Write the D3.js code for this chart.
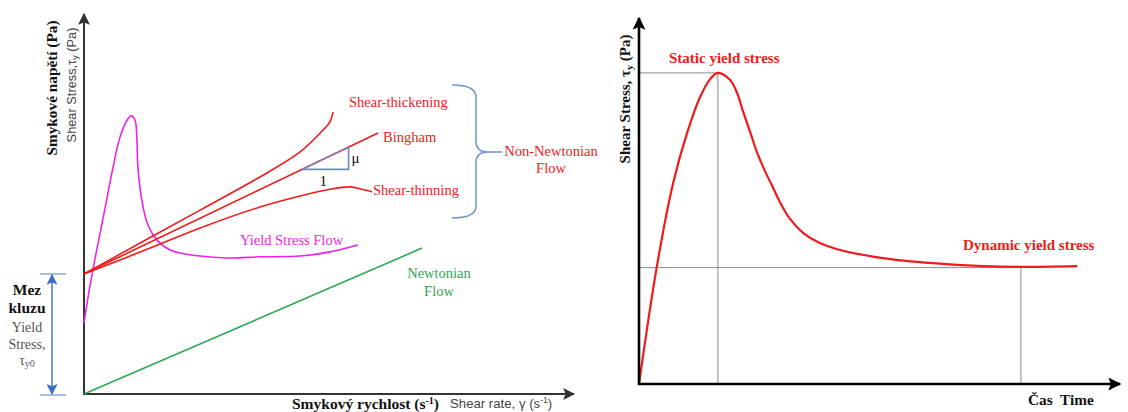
<!DOCTYPE html>
<html>
<head>
<meta charset="utf-8">
<script src="https://cdn.jsdelivr.net/npm/d3@7"></script>
<style>
  body { margin: 0; background: #fff; }
  svg { display: block; }
  .serif { font-family: "Liberation Serif", "Times New Roman", "DejaVu Serif", serif; }
  .sans { font-family: "Liberation Sans", Arial, "DejaVu Sans", sans-serif; }
</style>
</head>
<body>
<div id="chart"></div>
<script>
// left panel: shear stress vs shear rate (units 0..100 on both axes)
const yieldStress = 31.6;
const thickeningRate = [0, 23.7, 35.9, 44.1, 48.2, 50.2, 50.8];
const thickeningStress = [31.6, 48.4, 57.1, 63.7, 68.7, 71.6, 74.2];
const binghamRate = [0, 60];
const binghamStress = [31.6, 68.7];
const thinningRate = [0, 13.5, 23.7, 35.9, 44.1, 50.2, 54.3, 56.7, 58.8];
const thinningStress = [31.6, 38.4, 43.7, 49.2, 52.1, 53.9, 54.5, 53.9, 53.2];
const ysfRate = [0, 1.0, 2.2, 3.5, 4.7, 5.9, 7.3, 8.8, 9.6, 10.4, 10.8, 11.0, 11.8, 12.9, 14.9, 17.6, 19.6, 29.2, 35.9, 44.1, 50.2, 55.9];
const ysfStress = [18.7, 26.8, 35.3, 43.7, 51.6, 59.5, 67.4, 72.1, 73.2, 72.1, 66.8, 59.7, 51.1, 45.0, 40.5, 37.9, 37.1, 35.8, 36.1, 36.3, 37.4, 39.2];
const newtonRate = [0, 69];
const newtonStress = [0, 38.4];
const slopeRun = [44.5, 54];

// right panel: shear stress vs time
const timeVals = [0, 3.7, 7.1, 10.0, 12.7, 14.8, 16.4, 18.9, 20.4, 21.6, 23.1, 24.5, 26.0, 27.7, 29.3, 31.4, 34.1, 37.6, 41.8, 50.7, 61.1, 71.5, 79.4, 91.1];
const stressVals = [0, 32.0, 54.9, 68.6, 78.4, 83.3, 85.0, 83.1, 79.5, 74.6, 68.9, 63.4, 58.7, 54.1, 49.7, 45.1, 41.3, 38.5, 36.6, 34.4, 33.0, 32.2, 32.0, 32.2];
const staticPoint = [16.4, 85.0];
const dynamicPoint = [79.4, 31.8];

const W = 1128, H = 412;
const red = "#f01a1a", magenta = "#f022ea", green = "#2ea850", blue = "#6d93d2";

const svg = d3.select('#chart').append('svg')
  .attr('width', W).attr('height', H)
  .attr('viewBox', [0, 0, W, H]);

const defs = svg.append('defs');
function arrowMarker(id, color, size) {
  defs.append('marker')
    .attr('id', id)
    .attr('viewBox', '0 0 10 10')
    .attr('refX', 9).attr('refY', 5)
    .attr('markerUnits', 'userSpaceOnUse')
    .attr('markerWidth', size).attr('markerHeight', size)
    .attr('orient', 'auto-start-reverse')
    .append('path')
    .attr('d', 'M0,0 L10,5 L0,10 L2,5 Z')
    .attr('fill', color);
}
arrowMarker('arrL', '#333', 12);
arrowMarker('arrR', '#000', 13);
arrowMarker('arrB', '#3f6fc4', 11);

const zip = (xs, ys) => xs.map((x, i) => [x, ys[i]]);

// ---------- left panel ----------
const xL = d3.scaleLinear().domain([0, 100]).range([84, 574]);
const yL = d3.scaleLinear().domain([0, 100]).range([394, 14]);
const lineL = d3.line().x(d => xL(d[0])).y(d => yL(d[1])).curve(d3.curveCatmullRom.alpha(0.5));

const gL = svg.append('g');

// axes
gL.append('line')
  .attr('x1', xL(0)).attr('y1', yL(0)).attr('x2', xL(0)).attr('y2', yL(100))
  .attr('stroke', '#333').attr('stroke-width', 2).attr('marker-end', 'url(#arrL)');
gL.append('line')
  .attr('x1', xL(0) - 1).attr('y1', yL(0)).attr('x2', xL(100)).attr('y2', yL(0))
  .attr('stroke', '#333').attr('stroke-width', 2).attr('marker-end', 'url(#arrL)');

// curves
const curvesL = [
  { pts: zip(newtonRate, newtonStress), color: green },
  { pts: zip(ysfRate, ysfStress), color: magenta },
  { pts: zip(thickeningRate, thickeningStress), color: red },
  { pts: zip(binghamRate, binghamStress), color: red },
  { pts: zip(thinningRate, thinningStress), color: red }
];
gL.selectAll('path.curve')
  .data(curvesL)
  .enter()
  .append('path')
  .attr('class', 'curve')
  .attr('d', d => lineL(d.pts))
  .attr('fill', 'none')
  .attr('stroke', d => d.color)
  .attr('stroke-width', 1.6);

// slope triangle on Bingham line
const bingY = x => binghamStress[0] + (binghamStress[1] - binghamStress[0]) * x / binghamRate[1];
gL.append('path')
  .attr('d', `M${xL(slopeRun[0])},${yL(bingY(slopeRun[0]))} L${xL(slopeRun[1])},${yL(bingY(slopeRun[0]))} L${xL(slopeRun[1])},${yL(bingY(slopeRun[1]))}`)
  .attr('fill', 'none').attr('stroke', '#6a8cc2').attr('stroke-width', 1.6);
gL.append('line')
  .attr('x1', xL(slopeRun[0])).attr('y1', yL(bingY(slopeRun[0])))
  .attr('x2', xL(slopeRun[1])).attr('y2', yL(bingY(slopeRun[1])))
  .attr('stroke', '#7a7fc6').attr('stroke-width', 1.4);

// text helper
const lab = (g, x, y, txt, color, size, opts = {}) => g.append('text')
  .attr('class', opts.family || 'serif')
  .attr('x', x).attr('y', y)
  .attr('fill', color)
  .attr('font-size', size)
  .attr('font-weight', opts.bold ? 'bold' : 'normal')
  .attr('text-anchor', opts.anchor || 'start')
  .text(txt);

lab(gL, xL(slopeRun[1]) + 3, yL(bingY(slopeRun[0])) - 6, 'μ', '#111', 15);
lab(gL, (xL(slopeRun[0]) + xL(slopeRun[1])) / 2 - 2, yL(bingY(slopeRun[0])) + 17, '1', '#111', 15, { anchor: 'middle' });

lab(gL, 349, 107, 'Shear-thickening', red, 14.5);
lab(gL, 383, 142, 'Bingham', red, 14.5);
lab(gL, 373, 195, 'Shear-thinning', red, 14.5);
lab(gL, 240, 245, 'Yield Stress Flow', magenta, 14.5);
lab(gL, 439, 278, 'Newtonian', green, 14.5, { anchor: 'middle' });
lab(gL, 439, 296, 'Flow', green, 14.5, { anchor: 'middle' });
lab(gL, 551, 156, 'Non-Newtonian', red, 14.5, { anchor: 'middle' });
lab(gL, 551, 173, 'Flow', red, 14.5, { anchor: 'middle' });

// brace
gL.append('path')
  .attr('d', 'M452,85 Q476,85 476,97 L476,141 Q476,152 487,152 L502,152 M487,152 Q476,152 476,163 L476,206 Q476,218 452,218')
  .attr('fill', 'none').attr('stroke', blue).attr('stroke-width', 1.5);

// yield stress marker (double arrow)
gL.append('line').attr('x1', 40).attr('x2', 66).attr('y1', yL(yieldStress)).attr('y2', yL(yieldStress))
  .attr('stroke', blue).attr('stroke-width', 1.2);
gL.append('line').attr('x1', 40).attr('x2', 66).attr('y1', yL(0) + 1).attr('y2', yL(0) + 1)
  .attr('stroke', blue).attr('stroke-width', 1.2);
gL.append('line').attr('x1', 52).attr('x2', 52).attr('y1', yL(yieldStress) + 1).attr('y2', yL(0))
  .attr('stroke', '#3f6fc4').attr('stroke-width', 1.4)
  .attr('marker-start', 'url(#arrB)').attr('marker-end', 'url(#arrB)');

lab(gL, 27, 295, 'Mez', '#111', 15.5, { bold: true, anchor: 'middle' });
lab(gL, 27, 313, 'kluzu', '#111', 15.5, { bold: true, anchor: 'middle' });
lab(gL, 27, 332, 'Yield', '#555', 14, { anchor: 'middle' });
lab(gL, 27, 349, 'Stress,', '#555', 14, { anchor: 'middle' });
const tau0 = lab(gL, 27, 365, 'τ', '#555', 14, { anchor: 'middle' });
tau0.append('tspan').attr('font-size', 10).attr('dy', 2).text('y0');

// axis titles
gL.append('text')
  .attr('class', 'serif')
  .attr('transform', 'translate(57,88) rotate(-90)')
  .attr('text-anchor', 'middle')
  .attr('font-weight', 'bold').attr('font-size', 15.3)
  .attr('fill', '#111')
  .text('Smykové napětí (Pa)');
const yt2 = gL.append('text')
  .attr('class', 'sans')
  .attr('transform', 'translate(76,85) rotate(-90)')
  .attr('text-anchor', 'middle')
  .attr('font-size', 12.8)
  .attr('fill', '#444')
  .text('Shear Stress,τ');
yt2.append('tspan').attr('font-size', 9).attr('dy', 2).text('y');
yt2.append('tspan').attr('dy', -2).text('  (Pa)');

const xt1 = lab(gL, 292, 409, 'Smykový rychlost (s', '#111', 15.5, { bold: true });
xt1.append('tspan').attr('font-size', 10).attr('dy', -5).text('-1');
xt1.append('tspan').attr('dy', 5).text(')');
const xt2 = lab(gL, 450, 408, 'Shear rate, γ (s', '#444', 13.2, { family: 'sans' });
xt2.append('tspan').attr('font-size', 8.5).attr('dy', -5).text('-1');
xt2.append('tspan').attr('dy', 5).text(')');

// ---------- right panel ----------
const xR = d3.scaleLinear().domain([0, 100]).range([639, 1120]);
const yR = d3.scaleLinear().domain([0, 100]).range([384, 18]);
const lineR = d3.line().x(d => xR(d[0])).y(d => yR(d[1])).curve(d3.curveCatmullRom.alpha(0.5));

const gR = svg.append('g');

// guide lines
const guides = [
  [[0, staticPoint[1]], [staticPoint[0], staticPoint[1]]],
  [[staticPoint[0], staticPoint[1]], [staticPoint[0], 0]],
  [[0, dynamicPoint[1]], [dynamicPoint[0], dynamicPoint[1]]],
  [[dynamicPoint[0], dynamicPoint[1]], [dynamicPoint[0], 0]]
];
gR.selectAll('line.guide')
  .data(guides)
  .enter()
  .append('line')
  .attr('class', 'guide')
  .attr('x1', d => xR(d[0][0])).attr('y1', d => yR(d[0][1]))
  .attr('x2', d => xR(d[1][0])).attr('y2', d => yR(d[1][1]))
  .attr('stroke', '#8a8a8a').attr('stroke-width', 1);

gR.append('path')
  .attr('d', lineR(zip(timeVals, stressVals)))
  .attr('fill', 'none').attr('stroke', red).attr('stroke-width', 2.2);

// axes
gR.append('line')
  .attr('x1', xR(0)).attr('y1', yR(0) + 1).attr('x2', xR(0)).attr('y2', yR(100))
  .attr('stroke', '#000').attr('stroke-width', 2.6).attr('marker-end', 'url(#arrR)');
gR.append('line')
  .attr('x1', xR(0) - 1).attr('y1', yR(0)).attr('x2', xR(100)).attr('y2', yR(0))
  .attr('stroke', '#000').attr('stroke-width', 2.6).attr('marker-end', 'url(#arrR)');

lab(gR, 669, 63, 'Static yield stress', red, 15, { bold: true });
lab(gR, 963, 250, 'Dynamic yield stress', red, 15, { bold: true });
lab(gR, 1028, 405, 'Čas  Time', '#111', 15.3, { bold: true }).attr('xml:space', 'preserve');

const yr = gR.append('text')
  .attr('class', 'serif')
  .attr('transform', 'translate(630,99) rotate(-90)')
  .attr('text-anchor', 'middle')
  .attr('font-weight', 'bold').attr('font-size', 15).attr('fill', '#111')
  .text('Shear Stress, τ');
yr.append('tspan').attr('font-size', 10).attr('dy', 3).text('y');
yr.append('tspan').attr('dy', -3).text(' (Pa)');
</script>
</body>
</html>
